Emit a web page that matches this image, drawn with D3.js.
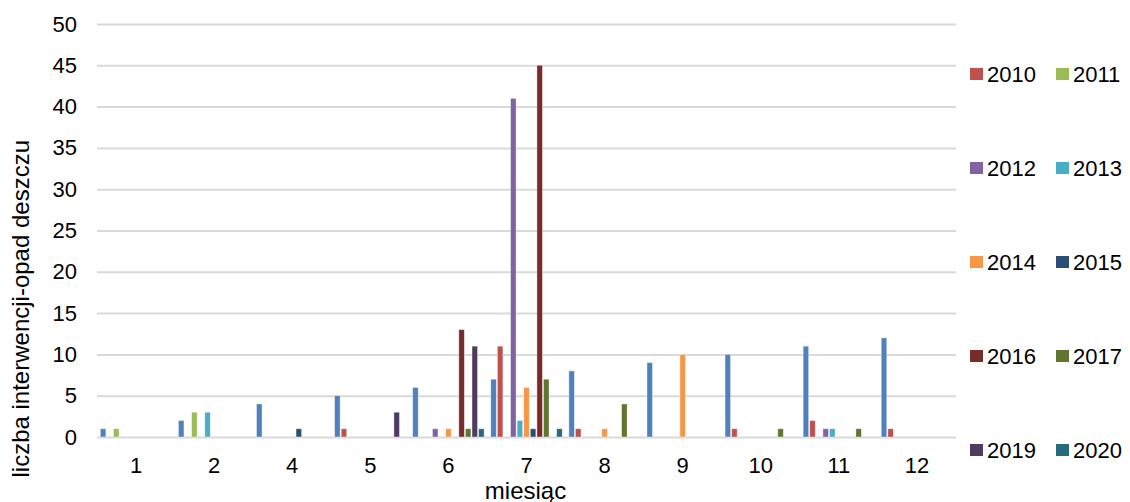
<!DOCTYPE html>
<html><head><meta charset="utf-8">
<script src="https://cdn.jsdelivr.net/npm/d3@7"></script>
<style>body{margin:0;background:#fff;}svg{display:block;font-family:"Liberation Sans",Arial,sans-serif;}</style>
</head><body><svg id="c" width="1130" height="502"></svg>
<script>
const months = ["1","2","4","5","6","7","8","9","10","11","12"];
const yTicks = [0,5,10,15,20,25,30,35,40,45,50];
const seriesNames = ["miesiąc","2010","2011","2012","2013","2014","2015","2016","2017","2019","2020"];
const legendNames = ["2010","2011","2012","2013","2014","2015","2016","2017","2019","2020"];
const colors = ["#4F81BD","#C0504D","#9BBB59","#8064A2","#4BACC6","#F79646","#2C4D75","#772C2A","#5F7530","#4D3B62","#276A7C"];
const sMonth = [1,2,4,5,6,7,8,9,10,11,12];
const y2010 = [0,0,0,1,0,11,1,0,1,2,1];
const y2011 = [1,3,0,0,0,0,0,0,0,0,0];
const y2012 = [0,0,0,0,1,41,0,0,0,1,0];
const y2013 = [0,3,0,0,0,2,0,0,0,1,0];
const y2014 = [0,0,0,0,1,6,1,10,0,0,0];
const y2015 = [0,0,1,0,0,1,0,0,0,0,0];
const y2016 = [0,0,0,0,13,45,0,0,0,0,0];
const y2017 = [0,0,0,0,1,7,4,0,1,1,0];
const y2019 = [0,0,0,3,11,0,0,0,0,0,0];
const y2020 = [0,0,0,0,1,1,0,0,0,0,0];
const seriesValues = [sMonth,y2010,y2011,y2012,y2013,y2014,y2015,y2016,y2017,y2019,y2020];

const svg = d3.select("#c");
const L = 97, R = 956, T = 24, B = 437;
const x0 = d3.scaleBand().domain(months).range([L, R]).paddingInner(0.085).paddingOuter(0.0425);
const x1 = d3.scaleBand().domain(seriesNames).range([0, x0.bandwidth()]).paddingInner(0.16);
const y = d3.scaleLinear().domain([0, 50]).range([B, T]);
const color = d3.scaleOrdinal().domain(seriesNames).range(colors);

// gridlines + y tick labels
const yAxis = d3.axisLeft(y).tickValues(yTicks).tickSize(-(R - L)).tickPadding(20);
const gy = svg.append("g").attr("transform", `translate(${L},0)`).call(yAxis);
gy.select(".domain").remove();
gy.selectAll(".tick line").attr("stroke", "#d9d9d9").attr("stroke-width", 2);
gy.selectAll(".tick text").attr("font-size", 22).attr("fill", "#000");

// bars
const data = [];
months.forEach((m, i) => seriesNames.forEach((s, j) => {
  if (seriesValues[j][i] > 0) data.push({m, s, v: seriesValues[j][i]});
}));
svg.append("g").selectAll("rect").data(data).join("rect")
  .attr("x", d => x0(d.m) + x1(d.s))
  .attr("width", x1.bandwidth())
  .attr("y", d => y(d.v))
  .attr("height", d => B - y(d.v))
  .attr("fill", d => color(d.s))
  .attr("stroke", "#ffffff").attr("stroke-opacity", 0.5).attr("stroke-width", 0.8);

// x axis labels
const xAxis = d3.axisBottom(x0).tickSize(0).tickPadding(20);
const gx = svg.append("g").attr("transform", `translate(0,${B})`).call(xAxis);
gx.select(".domain").remove();
gx.selectAll(".tick text").attr("font-size", 22).attr("fill", "#000");

// axis titles
svg.append("text").attr("x", (L + R) / 2 - 1).attr("y", 499).attr("text-anchor", "middle")
  .attr("font-size", 24).attr("fill", "#000").text("miesiąc");
svg.append("text").attr("transform", "translate(29,140) rotate(-90)").attr("text-anchor", "end")
  .attr("font-size", 24).attr("fill", "#000").text("liczba interwencji-opad deszczu");

// legend
const lg = svg.append("g");
legendNames.forEach((n, i) => {
  const col = i % 2, row = Math.floor(i / 2);
  const cx = col === 0 ? 970 : 1056;
  const cy = 74 + row * 94;
  lg.append("rect").attr("x", cx).attr("y", cy - 6).attr("width", 13).attr("height", 12).attr("fill", color(n));
  lg.append("text").attr("x", cx + 17).attr("y", cy + 7.5).attr("font-size", 22).attr("fill", "#000").text(n);
});
</script></body></html>
